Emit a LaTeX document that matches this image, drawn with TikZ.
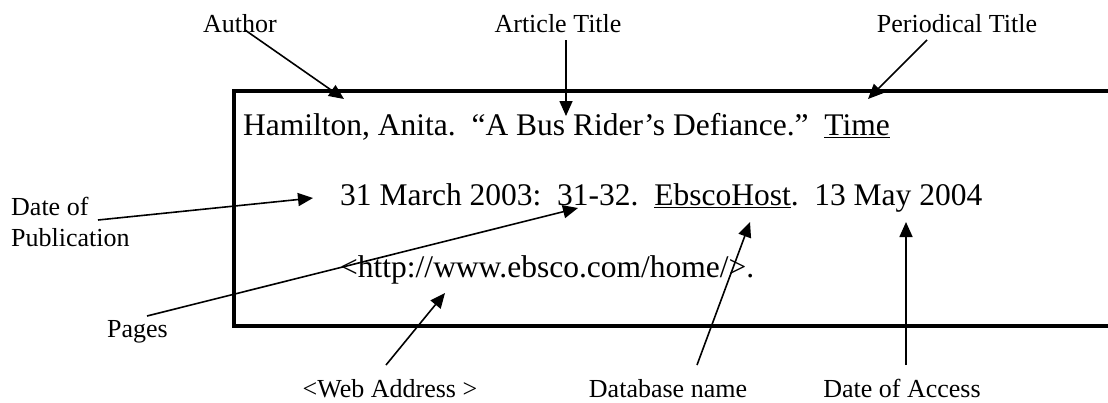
\documentclass[tikz,border=0pt]{standalone}
\usepackage{fontspec}
\setmainfont{Liberation Serif}
\usetikzlibrary{arrows.meta}
\frenchspacing
\tikzset{
  lbl/.style={inner sep=0pt, font=\fontsize{26}{31}\selectfont},
  cite/.style={inner sep=0pt, anchor=base west, font=\fontsize{31.5}{36}\selectfont},
  ptr/.style={line width=1.6pt, -{Triangle[length=15pt,width=13pt]}},
  frame/.style={line width=4.2pt}
}
\begin{document}
\begin{tikzpicture}[x=1pt,y=-1pt]
\useasboundingbox (0,0) rectangle (1108,402);
% frame (open on the right)
\draw[frame] (1112,91) -- (234,91) -- (234,326) -- (1112,326);
% citation text
\node[cite] (l1) at (243,135) {Hamilton, Anita.\ \ “A Bus Rider’s Defiance.”\ \ \underline{Time}};
\node[cite] (l2) at (340,205) {31 March 2003:\ \ 31-32.\ \ \underline{EbscoHost}.\ \ 13 May 2004};
\node[cite] (l3) at (340,277) {<http://www.ebsco.com/home/>.};
% labels
\node[lbl, anchor=base] (author) at (240,32) {Author};
\node[lbl, anchor=base] (article) at (558,32) {Article Title};
\node[lbl, anchor=base] (periodical) at (957,32) {Periodical Title};
\node[lbl, anchor=base west, align=left] (datepub) at (11,246) {Date of\\Publication};
\node[lbl, anchor=base west] (pages) at (107,337) {Pages};
\node[lbl, anchor=base] (web) at (390,397) {<Web Address >};
\node[lbl, anchor=base] (db) at (668,397) {Database name};
\node[lbl, anchor=base] (access) at (902,397) {Date of Access};
% arrow ends
\coordinate (aS) at (245,30);   \coordinate (aT) at (344,99);
\coordinate (tS) at (566,40);   \coordinate (tT) at (566,116);
\coordinate (pS) at (927,40);   \coordinate (pT) at (868,99);
\coordinate (dS) at (98,220);   \coordinate (dT) at (313,198);
\coordinate (gS) at (147,316);  \coordinate (gT) at (578,208);
\coordinate (wS) at (386,365);  \coordinate (wT) at (445,293);
\coordinate (bS) at (697,365);  \coordinate (bT) at (750,222);
\coordinate (cS) at (906,365);  \coordinate (cT) at (906,222);
\draw[ptr] (aS) -- (aT);
\draw[ptr] (tS) -- (tT);
\draw[ptr] (pS) -- (pT);
\draw[ptr] (dS) -- (dT);
\draw[ptr] (gS) -- (gT);
\draw[ptr] (wS) -- (wT);
\draw[ptr] (bS) -- (bT);
\draw[ptr] (cS) -- (cT);
\end{tikzpicture}
\end{document}
